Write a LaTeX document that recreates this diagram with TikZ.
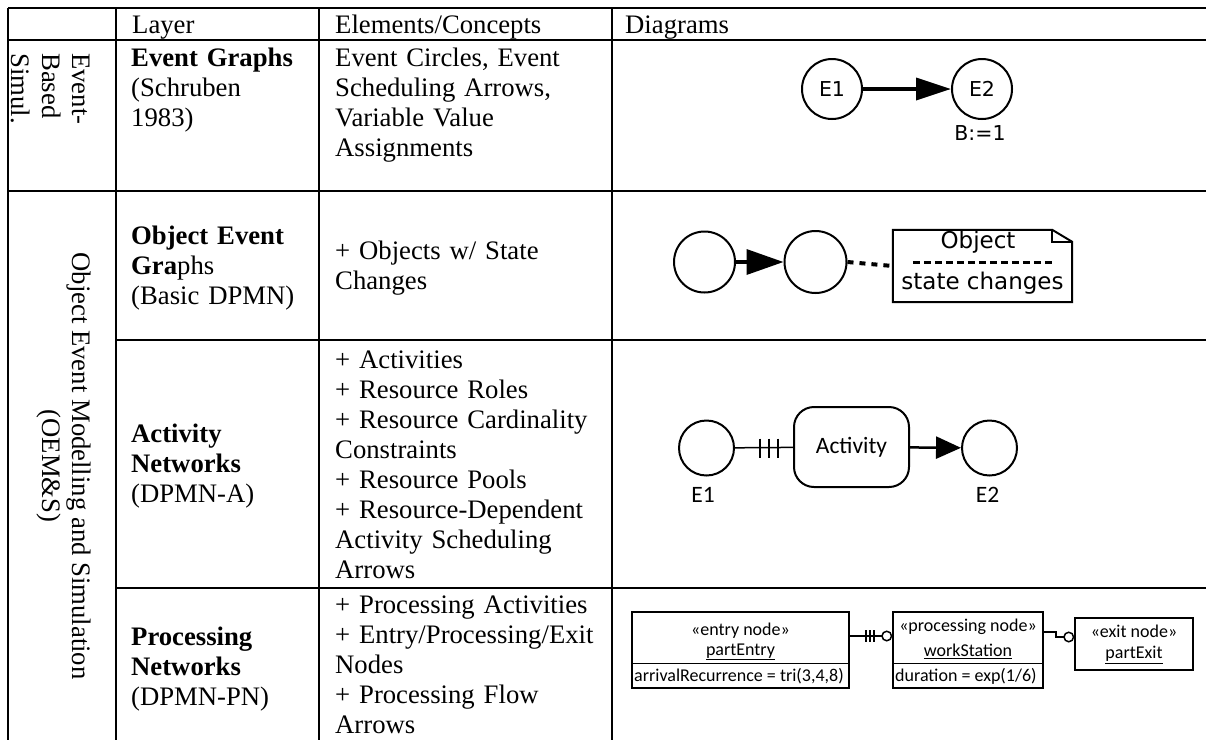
\documentclass[tikz,border=0pt]{standalone}
\usepackage{fontspec}
\setmainfont{Liberation Serif}
\newfontfamily\dejavu{DejaVu Sans}
\newfontfamily\carlito{Carlito}
\usetikzlibrary{arrows.meta,calc}
\newcommand\tabfnt{\fontsize{26.7}{30}\selectfont}
\newcommand\evfnt{\dejavu\fontsize{20.5}{24}\selectfont}
\newcommand\notefnt{\dejavu\fontsize{23}{27}\selectfont}
\newcommand\actfnt{\carlito\fontsize{23.5}{27}\selectfont}
\newcommand\pnfnt{\carlito\fontsize{18}{21}\selectfont}
\begin{document}
\begin{tikzpicture}[x=1pt,y=-1pt,
  rule/.style={line width=2.3pt},
  celltext/.style={anchor=base west, inner sep=0pt, align=left, text width=#1, font=\tabfnt},
  celltext/.default=270pt,
  sidetext/.style={inner sep=0pt, rotate=-90, font=\tabfnt},
  evnode/.style={circle, draw, line width=2pt, minimum size=#1, inner sep=0pt, font=\evfnt},
  evnode/.default=60pt,
  plain/.style={inner sep=0pt},
  schedarrow/.style={line width=3.5pt, -{Triangle[length=35pt,width=22pt]}},
  objarrow/.style={line width=3.5pt, -{Triangle[length=37pt,width=25pt]}},
  actarrow/.style={line width=2.5pt, -{Triangle[length=25pt,width=22pt]}},
  thinconn/.style={line width=1.5pt},
  pbox/.style={draw, line width=1.5pt, inner sep=0pt},
  pconn/.style={line width=1.5pt, -{Circle[open,length=11pt,width=11pt,line width=1.5pt]}}
]
\useasboundingbox (0,0) rectangle (1206,740);
\fill[white] (0,0) rectangle (1206,740);

% ---------- table rules ----------
\draw[rule] (8,8) -- (1206,8);
\draw[rule] (8,40) -- (1206,40);
\draw[rule] (8,191) -- (1206,191);
\draw[rule] (116,340) -- (1206,340);
\draw[rule] (116,588) -- (1206,588);
\draw[rule] (8,8) -- (8,740);
\draw[rule] (116,8) -- (116,740);
\draw[rule] (319,8) -- (319,740);
\draw[rule] (612,8) -- (612,740);

% ---------- header ----------
\node[celltext] (hLayer) at (132,33) {Layer};
\node[celltext] (hElem) at (335,33) {Elements/Concepts};
\node[celltext] (hDiag) at (625,33) {Diagrams};

% ---------- first column (rotated) ----------
\node[sidetext, anchor=base west] (sEvent) at (72,53) {Event-};
\node[sidetext, anchor=base west] (sBased) at (42,53) {Based};
\node[sidetext, anchor=base west] (sSimul) at (12,53) {Simul.};
\node[sidetext, anchor=base] (sOEM) at (72,466) {Object Event Modelling and Simulation};
\node[sidetext, anchor=base] (sOEMS) at (42,466) {(OEM\&S)};

% ---------- layer column ----------
\node[celltext=185pt] (lEG) at (131,66) {\textbf{Event Graphs}\\(Schruben\\1983)};
\node[celltext=185pt] (lOEG) at (131,244) {\textbf{Object Event}\\\textbf{Gra}phs\\(Basic DPMN)};
\node[celltext=185pt] (lAN) at (131,442) {\textbf{Activity}\\\textbf{Networks}\\(DPMN-A)};
\node[celltext=185pt] (lPN) at (131,645) {\textbf{Processing}\\\textbf{Networks}\\(DPMN-PN)};

% ---------- elements column ----------
\node[celltext] (cEG) at (335,66) {Event Circles, Event\\Scheduling Arrows,\\Variable Value\\Assignments};
\node[celltext] (cOEG) at (335,259) {+ Objects w/ State\\Changes};
\node[celltext] (cAN) at (335,368) {+ Activities\\+ Resource Roles\\+ Resource Cardinality\\Constraints\\+ Resource Pools\\+ Resource-Dependent\\Activity Scheduling\\Arrows};
\node[celltext] (cPN) at (335,613) {+ Processing Activities\\+ Entry/Processing/Exit\\Nodes\\+ Processing Flow\\Arrows};

% ---------- event graph ----------
\node[evnode] (e1) at (832,89) {E1};
\node[evnode] (e2) at (982,89) {E2};
\node[plain, font=\evfnt] (assign) at (980,133) {B:=1};
\draw[schedarrow] (e1) -- (e2);

% ---------- object event graph ----------
\node[evnode=61pt] (o1) at (704.5,262) {};
\node[evnode=62pt] (o2) at (815.5,262) {};
\draw[objarrow] (o1) -- (o2);
\node[plain, minimum width=179pt, minimum height=72pt] (note) at (982.5,266) {};
\draw[line width=2pt] (note.north west) -- ([xshift=-20pt]note.north east)
  -- ([yshift=-12pt]note.north east) -- (note.south east) -- (note.south west) -- cycle;
\draw[line width=1.5pt] ([xshift=-20pt]note.north east) -- ([xshift=-20pt,yshift=-12pt]note.north east)
  -- ([yshift=-12pt]note.north east);
\node[plain, font=\notefnt, anchor=base] (noteTitle) at (978,248) {Object};
\node[plain, font=\notefnt, anchor=base] (noteBody) at (982.5,289) {state changes};
\draw[line width=3pt, dash pattern=on 7pt off 4pt] ([xshift=20pt,yshift=4pt]note.west) -- ([xshift=-20pt,yshift=4pt]note.east);
\draw[line width=4pt, dash pattern=on 6pt off 6pt] (o2.east) -- (note.west);

% ---------- activity network ----------
\node[evnode=55pt] (a1) at (706.5,448) {};
\node[evnode=55pt] (a2) at (989.5,448) {};
\node[draw, line width=2pt, rounded corners=20pt, minimum width=115pt, minimum height=80pt, font=\actfnt] (act) at (851.5,447) {Activity};
\node[plain, font=\actfnt] (a1lab) at (703,495) {E1};
\node[plain, font=\actfnt] (a2lab) at (987.5,495) {E2};
\draw[thinconn] (a1) -- (act);
\foreach \d in {25,34,43} \draw[thinconn] ($(a1.east)+(\d,-9.5)$) -- ($(a1.east)+(\d,9.5)$);
\draw[actarrow] (act) -- (a2);

% ---------- processing network ----------
\node[pbox, minimum width=217pt, minimum height=76pt] (entry) at (740.5,650) {};
\draw[line width=1.5pt] ($(entry.north west)+(0,52)$) -- ($(entry.north east)+(0,52)$);
\node[plain, font=\pnfnt] (entryStereo) at (740.5,631) {«entry node»};
\node[plain, font=\pnfnt] (entryName) at (740.5,652) {\underline{partEntry}};
\node[plain, font=\pnfnt, anchor=west] (entryAttr) at (634,676) {arrivalRecurrence = tri(3,4,8)};

\node[pbox, minimum width=150pt, minimum height=76pt] (proc) at (968,650) {};
\draw[line width=1.5pt] ($(proc.north west)+(0,52)$) -- ($(proc.north east)+(0,52)$);
\node[plain, font=\pnfnt] (procStereo) at (968,627) {«processing node»};
\node[plain, font=\pnfnt] (procName) at (968,651) {\underline{workStation}};
\node[plain, font=\pnfnt, anchor=west] (procAttr) at (895,676) {duration = exp(1/6)};

\node[pbox, minimum width=118pt, minimum height=52pt] (exit) at (1134,644) {};
\node[plain, font=\pnfnt] (exitStereo) at (1134,631) {«exit node»};
\node[plain, font=\pnfnt] (exitName) at (1134,655) {\underline{partExit}};

% flow arrows between the nodes
\coordinate (eo) at ([yshift=14pt]entry.east);
\draw[pconn] (eo) -- ([yshift=14pt]proc.west);
\foreach \d in {16,20,24} \draw[line width=1.5pt] ($(eo)+(\d,-6)$) -- ($(eo)+(\d,6)$);
\coordinate (po) at ([yshift=18pt]proc.east);
\draw[pconn] (po) -- ++(12,0) |- ([yshift=7pt]exit.west);
\end{tikzpicture}
\end{document}
